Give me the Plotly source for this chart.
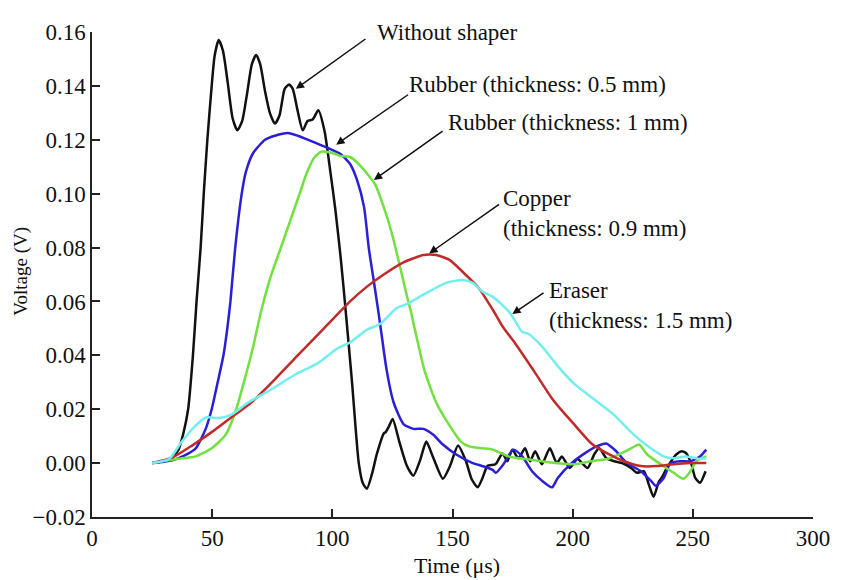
import plotly.graph_objects as go

# ---- data ----
black_x = [25, 30, 33.3, 36, 38, 40, 42, 43.5, 45.2, 46.5, 48, 49.8, 51, 52.7, 54.5, 56.5, 58.5, 60.5,
           62.5, 64.5, 66.5, 68.3, 70, 72, 74, 76.1, 78, 80.2, 82, 83.5, 85.5, 87.7, 89.7, 91.8, 94.2,
           96.7, 99.2, 101.2, 103.5, 105.3, 108.2, 111, 112.7, 114.4, 116.5, 118.5, 121.4, 122.2, 123.5,
           125.1, 128, 131, 133.7, 136.5, 139.1, 142, 146, 149, 152.3, 155.6, 158, 160.5, 162.5, 164.6,
           167.9, 170.8, 172.8, 174.9, 177.4, 180.2, 182.3, 184.4, 187.2, 190.5, 193.4, 195.5, 198.8,
           202, 206.2, 209, 211.1, 214, 217.3, 220.6, 224.3, 226.7, 229.6, 231.7, 233.7, 235.8, 237,
           239.1, 241.2, 243.2, 245.3, 247.3, 249.4, 251, 253, 255.3]
black_y = [0.0, 0.0008, 0.002, 0.005, 0.011, 0.020, 0.040, 0.060, 0.080, 0.100, 0.120, 0.140, 0.151,
           0.157, 0.153, 0.141, 0.128, 0.1235, 0.127, 0.137, 0.148, 0.1515, 0.148, 0.138, 0.13, 0.126,
           0.129, 0.139, 0.1405, 0.139, 0.131, 0.1235, 0.127, 0.1275, 0.131, 0.1235, 0.108, 0.0945,
           0.076, 0.059, 0.030, 0.0, -0.0075, -0.0095, -0.004, 0.0033, 0.011, 0.0115, 0.0135, 0.0164,
           0.0075, -0.001, -0.0047, 0.001, 0.008, 0.002, -0.0058, -0.001, 0.0065, 0.0007, -0.006,
           -0.009, -0.0055, -0.001, -0.0004, 0.0036, 0.0007, 0.005, 0.0018, 0.0055, 0.0007, 0.0044,
           -0.0004, 0.0055, 0.0, 0.0025, -0.0018, 0.0015, -0.0018, 0.0033, 0.0055, 0.0018, 0.0007, 0.0,
           -0.0018, -0.0036, -0.003, -0.008, -0.0125, -0.007, -0.0055, -0.002, 0.001, 0.0033, 0.0044,
           0.0036, -0.0004, -0.0055, -0.0073, -0.003]

blue_x = [25, 30, 35, 40, 43.2, 47.3, 49.8, 52.3, 54.7, 56.3, 57.6, 59.6, 62.3, 64, 67, 72, 76.1, 81.5,
          85.6, 91, 98, 103.3, 107.4, 110.3, 113.2, 115.2, 117.3, 119.3, 120.6, 122.6, 125.5, 129.6,
          133.7, 137.9, 142, 146, 151.4, 158.4, 162.5, 166.7, 168, 171.2, 175.3, 179, 183.1, 187.2,
          191.4, 193.8, 199.6, 205, 209.9, 214, 218.1, 222.6, 228.4, 232.5, 234.6, 237.9, 240.7, 244.9,
          249, 253, 255.6]
blue_y = [0.0, 0.0005, 0.0015, 0.0035, 0.0055, 0.0127, 0.020, 0.030, 0.040, 0.050, 0.060, 0.080, 0.100,
          0.108, 0.115, 0.120, 0.1215, 0.1225, 0.1215, 0.1196, 0.117, 0.1148, 0.111, 0.105, 0.095,
          0.0796, 0.0673, 0.0553, 0.047, 0.0345, 0.0225, 0.0145, 0.0127, 0.0127, 0.0105, 0.0069, 0.0033,
          0.0, -0.0011, -0.0025, -0.0036, -0.0004, 0.005, 0.0025, -0.003, -0.0065, -0.009, -0.0055, 0.0,
          0.0036, 0.0062, 0.0073, 0.0044, 0.0, -0.003, -0.0065, -0.0084, -0.0055, 0.0, 0.0007, 0.0007,
          0.0025, 0.005]

green_x = [25, 35, 43.2, 49.8, 55.6, 60, 63.5, 67, 70, 72, 75, 78.6, 82.5, 86.4, 89.5, 92.6, 95.5, 99.2,
           103.3, 107.4, 111.5, 117.7, 121.4, 124.7, 128, 130.9, 132.5, 135, 138.3, 143.2, 148.6, 153.5,
           156.8, 162.5, 166.7, 173.3, 180.2, 187.2, 193.8, 200.8, 207.8, 214.4, 220.2, 224.3, 227.6,
           230.9, 236.6, 242, 246.1, 249, 251.4, 255.6]
green_y = [0.0, 0.0015, 0.0025, 0.0055, 0.0105, 0.020, 0.031, 0.043, 0.055, 0.062, 0.071, 0.080, 0.090,
           0.100, 0.108, 0.1135, 0.1156, 0.1153, 0.114, 0.1136, 0.1105, 0.1036, 0.095, 0.0855, 0.0735,
           0.0625, 0.057, 0.047, 0.0345, 0.0225, 0.0142, 0.008, 0.0062, 0.0055, 0.005, 0.0025, 0.0015,
           0.0007, 0.0, -0.0004, 0.0007, 0.0015, 0.0036, 0.0055, 0.0069, 0.0033, -0.0004, -0.0036,
           -0.0058, -0.003, 0.0007, 0.0025]

red_x = [25, 33.3, 41.6, 49.8, 58, 66.3, 76, 85.6, 96.5, 107.4, 114.4, 121.4, 129.6, 137.9, 143.2,
         148.6, 155.6, 160.9, 166.7, 171, 176.1, 184.4, 191.4, 196, 200.8, 207.8, 214.4, 221.4, 228.4,
         235, 242, 249, 255.6]
red_y = [0.0, 0.002, 0.0065, 0.0115, 0.017, 0.0225, 0.031, 0.040, 0.050, 0.060, 0.0655, 0.0700, 0.0745,
         0.0772, 0.0772, 0.0755, 0.0698, 0.065, 0.057, 0.0505, 0.0444, 0.0335, 0.024, 0.019, 0.0142,
         0.0073, 0.0036, 0.0007, -0.0011, -0.0011, -0.0004, 0.0, 0.0]

cyan_x = [25, 32.1, 37.4, 43.2, 47.7, 52.7, 58, 65, 74.5, 84.4, 93.8, 102, 107.4, 114.4, 119.8, 126.7,
          130.9, 137.9, 147.3, 154.3, 158.4, 162.5, 166.7, 173.3, 176.1, 179, 181.5, 187.2, 193.8,
          200.8, 209, 217.3, 225.5, 232.5, 237.9, 242, 247.3, 253, 255.6]
cyan_y = [0.0, 0.0015, 0.008, 0.014, 0.017, 0.0167, 0.018, 0.0225, 0.0273, 0.0328, 0.037, 0.0425,
          0.0448, 0.0495, 0.0516, 0.0575, 0.059, 0.0625, 0.0669, 0.068, 0.0669, 0.0636, 0.0618, 0.0564,
          0.0527, 0.0487, 0.048, 0.0433, 0.036, 0.0293, 0.0236, 0.0178, 0.0105, 0.0055, 0.0025, 0.0018,
          0.0025, 0.0015, 0.0018]

x_ticks = [0, 50, 100, 150, 200, 250, 300]
y_ticks = [-0.02, 0.0, 0.02, 0.04, 0.06, 0.08, 0.10, 0.12, 0.14, 0.16]

series = [
    ("Without shaper", black_x, black_y, "#111111"),
    ("Rubber (thickness: 0.5 mm)", blue_x, blue_y, "#2a1ed6"),
    ("Rubber (thickness: 1 mm)", green_x, green_y, "#72e03e"),
    ("Copper (thickness: 0.9 mm)", red_x, red_y, "#c22a2a"),
    ("Eraser (thickness: 1.5 mm)", cyan_x, cyan_y, "#72eeee"),
]

# label text, text anchor (x, y), arrow tail (x, y), arrow head (x, y)
labels = [
    ("Without shaper", 117.7, 0.1600, 114.4, 0.1578, 84.8, 0.1389),
    ("Rubber (thickness: 0.5 mm)", 130.9, 0.1407, 132.1, 0.1371, 101.6, 0.1182),
    ("Rubber (thickness: 1 mm)", 147.3, 0.1265, 146.5, 0.1236, 117.3, 0.1051),
    ("Copper<br>(thickness: 0.9 mm)", 170.0, 0.0925, 170.0, 0.0964, 140.3, 0.0778),
    ("Eraser<br>(thickness: 1.5 mm)", 189.3, 0.0585, 188.5, 0.0636, 174.9, 0.0553),
]

FONT = "Liberation Serif"

fig = go.Figure()
for name, xs, ys, col in series:
    fig.add_trace(go.Scatter(x=xs, y=ys, mode="lines", name=name,
                             line=dict(color=col, width=2.5, shape="spline", smoothing=0.6)))

annotations = []
for text, tx, ty, ax, ay, hx, hy in labels:
    annotations.append(dict(x=hx, y=hy, xref="x", yref="y", ax=ax, ay=ay, axref="x", ayref="y",
                            text="", showarrow=True, arrowhead=2, arrowsize=1.1, arrowwidth=1.5,
                            arrowcolor="#111111", standoff=0, startstandoff=0))
    annotations.append(dict(x=tx, y=ty, xref="x", yref="y", text=text, showarrow=False,
                            xanchor="left", yanchor="middle", align="left",
                            font=dict(family=FONT, size=23, color="#111111")))

annotations.append(dict(x=0.506, y=0, xref="paper", yref="paper", yshift=-48, text="Time (μs)",
                        showarrow=False, xanchor="center", yanchor="middle",
                        font=dict(family=FONT, size=22, color="#111111")))
annotations.append(dict(x=0, y=0.071, xref="paper", yref="y", xshift=-71, text="Voltage (V)",
                        textangle=-90, showarrow=False, xanchor="center", yanchor="middle",
                        font=dict(family=FONT, size=19, color="#111111")))

# the page body adds an 8 px offset, so the figure is 8 px smaller and margins are shifted
fig.update_layout(
    width=834, height=572,
    margin=dict(l=84, r=21, t=14, b=63),
    paper_bgcolor="white", plot_bgcolor="white",
    showlegend=False,
    font=dict(family=FONT, size=23, color="#111111"),
    annotations=annotations,
    xaxis=dict(range=[0, 300], tickvals=x_ticks, showgrid=False, zeroline=False,
               showline=True, linecolor="#222222", linewidth=1.5,
               ticks="inside", ticklen=8, tickwidth=1.5, tickcolor="#222222",
               tickfont=dict(family=FONT, size=23, color="#111111")),
    yaxis=dict(range=[-0.02, 0.16], tickvals=y_ticks, tickformat=".2f", showgrid=False,
               zeroline=False, showline=True, linecolor="#222222", linewidth=1.5,
               ticks="inside", ticklen=8, tickwidth=1.5, tickcolor="#222222",
               tickfont=dict(family=FONT, size=23, color="#111111")),
)

fig.write_html("out.html")
